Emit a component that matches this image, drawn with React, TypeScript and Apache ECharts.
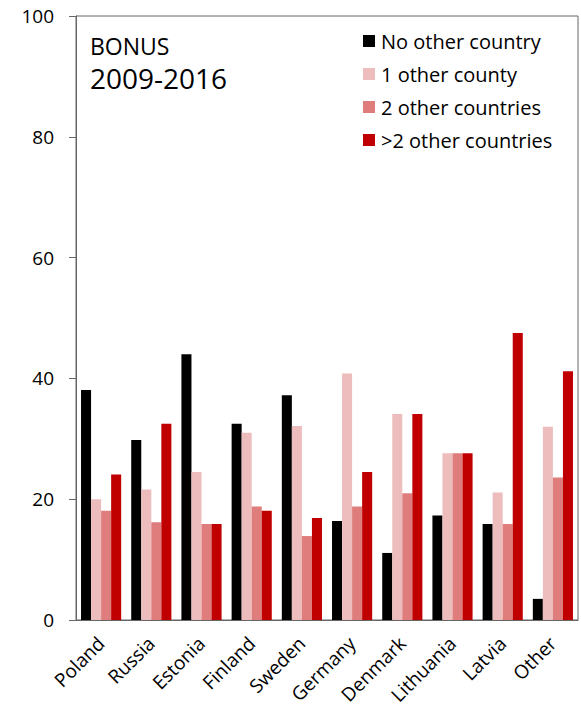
import React, { useEffect, useRef } from "react";
import * as echarts from "echarts";

const categories = ["Poland", "Russia", "Estonia", "Finland", "Sweden", "Germany", "Denmark", "Lithuania", "Latvia", "Other"];
const noOther = [38.1, 29.8, 44.0, 32.5, 37.2, 16.4, 11.1, 17.3, 15.9, 3.5];
const oneOther = [20.0, 21.6, 24.5, 31.0, 32.1, 40.8, 34.1, 27.6, 21.1, 32.0];
const twoOther = [18.1, 16.2, 15.9, 18.8, 13.9, 18.8, 21.0, 27.6, 15.9, 23.6];
const moreOther = [24.1, 32.5, 15.9, 18.1, 16.9, 24.5, 34.1, 27.6, 47.5, 41.2];
const seriesNames = ["No other country", "1 other county", "2 other countries", ">2 other countries"];
const colors = ["#000000", "#EDBDBD", "#DF7D7D", "#C00000"];

const FONT = "'Open Sans', sans-serif";

export default function App() {
  const ref = useRef<HTMLDivElement>(null);
  useEffect(() => {
    if (!ref.current) return;
    const chart = echarts.init(ref.current, null, { renderer: "svg" });
    const data = [noOther, oneOther, twoOther, moreOther];
    chart.setOption({
      animation: false,
      backgroundColor: "#ffffff",
      textStyle: { fontFamily: FONT },
      grid: {
        left: 76,
        right: 3,
        top: 16,
        bottom: 94,
        show: true,
        borderColor: "#666666",
        borderWidth: 1,
      },
      legend: {
        orient: "vertical",
        left: 358,
        top: 26,
        icon: "rect",
        itemWidth: 12,
        itemHeight: 12,
        itemGap: 13,
        selectedMode: false,
        data: seriesNames,
        textStyle: { fontFamily: FONT, fontSize: 20, color: "#000", lineHeight: 20, padding: [0, 0, 0, 1] },
      },
      graphic: [
        { type: "text", left: 90, top: 34, style: { text: "BONUS", font: `23px ${FONT}`, lineHeight: 23, fill: "#000" } },
        { type: "text", left: 90, top: 64, style: { text: "2009-2016", font: `28px ${FONT}`, lineHeight: 28, fill: "#000" } },
      ],
      xAxis: {
        type: "category",
        data: categories,
        axisLine: { show: true, lineStyle: { color: "#666666" } },
        axisTick: { show: false },
        axisLabel: { rotate: 45, fontSize: 19, color: "#000", margin: 20, fontFamily: FONT, interval: 0 },
      },
      yAxis: {
        type: "value",
        min: 0,
        max: 100,
        interval: 20,
        splitLine: { show: false },
        axisLine: { show: true, lineStyle: { color: "#666666" } },
        axisTick: { show: true, length: 7, lineStyle: { color: "#666666" } },
        axisLabel: { fontSize: 19, color: "#000", margin: 22, fontFamily: FONT },
      },
      series: seriesNames.map((name, i) => ({
        name,
        type: "bar",
        data: data[i],
        itemStyle: { color: colors[i] },
        barGap: "0%",
        barCategoryGap: "20%",
      })),
    });
    return () => chart.dispose();
  }, []);
  return <div ref={ref} style={{ width: 581, height: 714, position: "absolute", left: 0, top: 0 }} />;
}
